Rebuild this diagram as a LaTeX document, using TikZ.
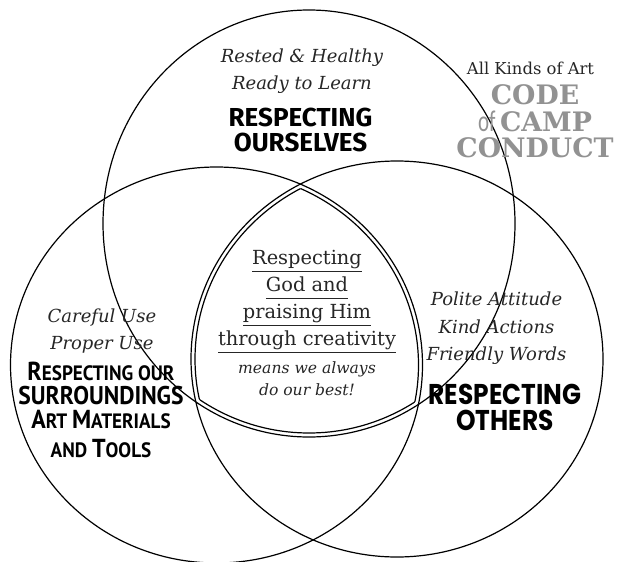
\documentclass[tikz,border=0pt]{standalone}
\usepackage{fontspec}
\setmainfont{DejaVu Serif}
\newfontfamily\selffont{Fira Sans}
\newfontfamily\othersfont{Poppins}[FakeStretch=0.87]
\newfontfamily\surrfont{PT Sans}[FakeStretch=0.92]
\newfontfamily\offont{Carlito}[FakeStretch=0.7]

\definecolor{ink}{HTML}{262626}
\definecolor{codegray}{HTML}{929292}

\newcommand\godline[1]{\underline{#1\vphantom{g}}}
\newcommand\initcap[2]{{\fontsize{13}{10}\selectfont #1}{\fontsize{10.4}{10}\selectfont #2}}

\begin{document}
\begin{tikzpicture}[x=0.5pt, y=-0.5pt,
	ring/.style={line width=0.6pt},
	soft/.style={font=\itshape\fontsize{9}{13.8}\selectfont, text=ink, align=center, inner sep=0pt},
	head/.style={align=center, inner sep=0pt}]

\useasboundingbox (0,0) rectangle (624,561);

%% Kreise
\coordinate (T) at (309,223.5);
\coordinate (L) at (216.5,365);
\coordinate (R) at (397,359);
\draw[ring] (T) ellipse [x radius=206, y radius=213.5];
\draw[ring] (L) ellipse [x radius=206, y radius=198];
\draw[ring] (R) ellipse [x radius=206, y radius=198];

%% Mitte, innere Linie
\begin{scope}
	\clip (L) ellipse [x radius=202, y radius=194];
	\clip (R) ellipse [x radius=202, y radius=194];
	\draw[ring] (T) ellipse [x radius=202, y radius=209.5];
\end{scope}
\begin{scope}
	\clip (T) ellipse [x radius=202, y radius=209.5];
	\clip (R) ellipse [x radius=202, y radius=194];
	\draw[ring] (L) ellipse [x radius=202, y radius=194];
\end{scope}
\begin{scope}
	\clip (T) ellipse [x radius=202, y radius=209.5];
	\clip (L) ellipse [x radius=202, y radius=194];
	\draw[ring] (R) ellipse [x radius=202, y radius=194];
\end{scope}
%%%%%%%%%%%%%%%%

%% oben
\node[soft] (rest) at (302,71) {Rested \& Healthy\\Ready to Learn};
\node[head, font=\selffont\bfseries\fontsize{13}{12.5}\selectfont] (ourselves) at (300.5,129.5) {RESPECTING\\OURSELVES};

%% Titel
\node[head, font=\fontsize{8.2}{10}\selectfont, text=ink] (allart) at (530.5,68) {All Kinds of Art};
\node[head, font=\bfseries\fontsize{13.4}{13.25}\selectfont, text=codegray] (code) at (535,121.5) {CODE\\{\offont\mdseries\fontsize{15}{13.25}\selectfont of}\,CAMP\\CONDUCT};

%% Mitte
\node[head, font=\fontsize{9.7}{13.5}\selectfont, text=ink] (god) at (307,302) {\godline{Respecting}\\\godline{God and}\\\godline{praising Him}\\\godline{through creativity}};
\node[soft, font=\itshape\fontsize{7.8}{11}\selectfont] (best) at (307,379) {means we always\\do our best!};

%% links
\node[soft] (careful) at (102,331) {Careful Use\\Proper Use};
\node[head, font=\surrfont\bfseries] (surround) at (101,410) {\initcap{R}{ESPECTING OUR}\\{\fontsize{12.8}{10}\selectfont SURROUNDINGS}\\\initcap{A}{RT }\initcap{M}{ATERIALS}\\[2.5pt]{\fontsize{10.4}{10}\selectfont AND }\initcap{T}{OOLS}};

%% rechts
\node[soft] (polite) at (496.5,328.5) {Polite Attitude\\Kind Actions\\Friendly Words};
\node[head, font=\othersfont\bfseries\fontsize{14.3}{13}\selectfont] (others) at (505,407.5) {RESPECTING\\OTHERS};

%\draw (current bounding box.south west) rectangle (current bounding box.north east);

\end{tikzpicture}
\end{document}
